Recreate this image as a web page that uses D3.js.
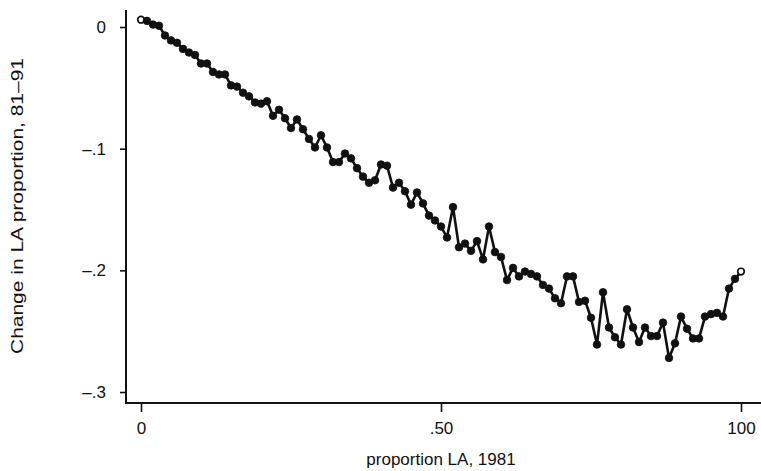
<!DOCTYPE html>
<html>
<head>
<meta charset="utf-8">
<script src="https://cdn.jsdelivr.net/npm/d3@7"></script>
<style>
  html, body { margin: 0; padding: 0; background: #fff; }
  svg { display: block; }
  text { font-family: "Liberation Sans", Arial, Helvetica, sans-serif; fill: #111; }
</style>
</head>
<body>
<svg id="chart" width="761" height="471"></svg>
<script>
// ---- data ----
const proportion1981 = d3.range(0, 101); // 0..100
const change8191 = [
  0.006, 0.005, 0.002, 0.001, -0.007, -0.011, -0.013, -0.018, -0.021, -0.023,
  -0.030, -0.030, -0.037, -0.039, -0.039, -0.048, -0.049, -0.054, -0.057, -0.062,
  -0.063, -0.061, -0.073, -0.068, -0.075, -0.083, -0.076, -0.084, -0.092, -0.099,
  -0.089, -0.099, -0.111, -0.111, -0.104, -0.108, -0.116, -0.123, -0.128, -0.126,
  -0.113, -0.114, -0.132, -0.128, -0.135, -0.146, -0.136, -0.145, -0.155, -0.159,
  -0.164, -0.173, -0.148, -0.181, -0.178, -0.184, -0.176, -0.191, -0.164, -0.185,
  -0.189, -0.208, -0.198, -0.205, -0.201, -0.203, -0.205, -0.212, -0.215, -0.223,
  -0.227, -0.205, -0.205, -0.226, -0.225, -0.239, -0.261, -0.218, -0.247, -0.255,
  -0.261, -0.232, -0.247, -0.259, -0.247, -0.254, -0.254, -0.243, -0.272, -0.260,
  -0.238, -0.248, -0.256, -0.256, -0.238, -0.236, -0.235, -0.238, -0.215, -0.207,
  -0.201
];
const yTickValues = [0, -0.1, -0.2, -0.3];
const yTickLabels = ["0", "\u2013.1", "\u2013.2", "\u2013.3"];
const xTickValues = [0, 50, 100];
const xTickLabels = ["0", ".50", "100"];
const xTitle = "proportion LA, 1981";
const yTitle = "Change in LA proportion, 81\u201391";

// ---- layout ----
const svg = d3.select("#chart");
const x = d3.scaleLinear().domain([0, 100]).range([141, 741]);
const y = d3.scaleLinear().domain([0, -0.3]).range([27, 392]);
const axisX = 126;   // y-axis line position
const axisY = 403;   // x-axis line position

const data = proportion1981.map((p, i) => ({ p, v: change8191[i] }));

// axis frame lines
svg.append("line")
  .attr("x1", axisX).attr("x2", axisX)
  .attr("y1", 10).attr("y2", axisY + 1)
  .attr("stroke", "#111").attr("stroke-width", 2);
svg.append("line")
  .attr("x1", axisX - 1).attr("x2", 761)
  .attr("y1", axisY).attr("y2", axisY)
  .attr("stroke", "#111").attr("stroke-width", 2);

// y axis
const yAxis = d3.axisLeft(y)
  .tickValues(yTickValues)
  .tickFormat((d, i) => yTickLabels[i])
  .tickSize(6)
  .tickPadding(14);
const gy = svg.append("g").attr("transform", `translate(${axisX},0)`).call(yAxis);
gy.select(".domain").remove();
gy.selectAll(".tick line").attr("stroke", "#111").attr("stroke-width", 1.6);
gy.selectAll(".tick text")
  .style("font-family", '"Liberation Sans", Arial, sans-serif')
  .style("font-size", "17px").attr("fill", "#111");

// x axis
const xAxis = d3.axisBottom(x)
  .tickValues(xTickValues)
  .tickFormat((d, i) => xTickLabels[i])
  .tickSize(9)
  .tickPadding(10);
const gx = svg.append("g").attr("transform", `translate(0,${axisY})`).call(xAxis);
gx.select(".domain").remove();
gx.selectAll(".tick line").attr("stroke", "#111").attr("stroke-width", 1.6);
gx.selectAll(".tick text")
  .style("font-family", '"Liberation Sans", Arial, sans-serif')
  .style("font-size", "17px").attr("fill", "#111");

// titles
svg.append("text")
  .attr("x", 441).attr("y", 465)
  .attr("text-anchor", "middle")
  .style("font-size", "17px")
  .text(xTitle);
svg.append("text")
  .attr("transform", "translate(23,206) rotate(-90)")
  .attr("text-anchor", "middle")
  .attr("textLength", 296)
  .attr("lengthAdjust", "spacingAndGlyphs")
  .style("font-size", "17px")
  .text(yTitle);

// line
const line = d3.line().x(d => x(d.p)).y(d => y(d.v));
svg.append("path")
  .datum(data)
  .attr("d", line)
  .attr("fill", "none")
  .attr("stroke", "#111")
  .attr("stroke-width", 2.6)
  .attr("stroke-linejoin", "round");

// points
svg.append("g").selectAll("circle")
  .data(data)
  .join("circle")
  .attr("cx", d => x(d.p))
  .attr("cy", d => y(d.v))
  .attr("r", (d, i) => (i === 0 || i === data.length - 1) ? 3.3 : 3.8)
  .attr("fill", (d, i) => (i === 0 || i === data.length - 1) ? "#fff" : "#111")
  .attr("stroke", "#111")
  .attr("stroke-width", (d, i) => (i === 0 || i === data.length - 1) ? 1.7 : 0.8);
</script>
</body>
</html>
